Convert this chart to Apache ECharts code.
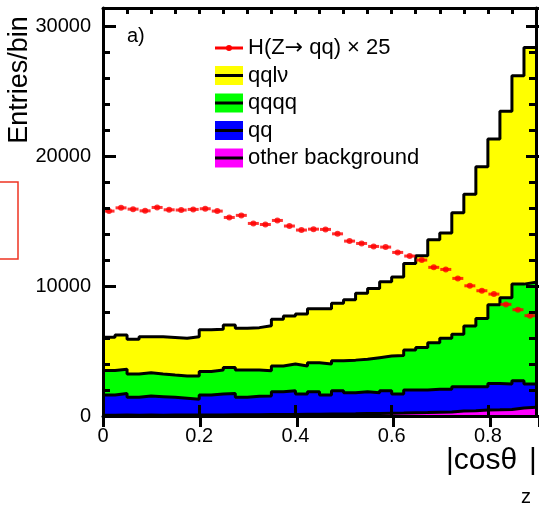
<!DOCTYPE html>
<html>
<head>
<meta charset="utf-8">
<script src="https://cdn.jsdelivr.net/npm/echarts@6/dist/echarts.min.js"></script>
<style>
  html, body { margin: 0; padding: 0; background: #ffffff; }
  #chart { width: 539px; height: 506px; }
</style>
</head>
<body>
<div id="chart"></div>
<script>
// Histogram binning in |cos theta_Z|
const binLow = [0.000, 0.025, 0.050, 0.075, 0.100, 0.125, 0.150, 0.175, 0.200, 0.225,
                0.250, 0.275, 0.300, 0.325, 0.350, 0.375, 0.400, 0.425, 0.450, 0.475,
                0.500, 0.525, 0.550, 0.575, 0.600, 0.625, 0.650, 0.675, 0.700, 0.725,
                0.750, 0.775, 0.800, 0.825, 0.850, 0.875];
const binWidth = 0.025;
const xMax = 0.9;

// Background processes, entries per bin
const otherBackground = [60, 70, 60, 70, 60, 70, 80, 70, 80, 80,
                         90, 100, 100, 110, 110, 120, 130, 140, 150, 160,
                         170, 190, 200, 220, 230, 250, 260, 280, 300, 380,
                         400, 470, 480, 500, 620, 680];
const qq = [1560, 1670, 1380, 1470, 1430, 1370, 1280, 1210, 1540, 1610,
            1650, 1340, 1420, 1430, 1760, 1830, 1560, 1730, 1470, 1790,
            1620, 1680, 1590, 1730, 1470, 1750, 1740, 1770, 1750, 1880,
            1860, 1790, 2030, 1960, 2100, 1780];
const qqqq = [1880, 1850, 1790, 1790, 1740, 1710, 1720, 1800, 1800, 1850,
              2000, 2100, 2020, 1950, 1980, 2050, 2160, 2230, 2390, 2300,
              2510, 2490, 2700, 2670, 2950, 3080, 3280, 3590, 3930, 4040,
              4660, 5250, 6050, 6640, 7430, 7840];
const qqlv = [2560, 2640, 2670, 2770, 2870, 2900, 2900, 3020, 3210, 3130,
              3260, 3210, 3260, 3460, 3600, 3690, 4000, 4150, 4250, 4420,
              4650, 5080, 5330, 5710, 6050, 6660, 7050, 7920, 8100, 9350,
              10140, 11670, 12750, 14360, 16030, 18060];

// Signal H(Z->qq), already multiplied by 25
const signalX25 = [15770, 16020, 15920, 15790, 16050, 15870, 15850, 15900, 15950, 15770,
                   15280, 15440, 14820, 14740, 15050, 14620, 14310, 14380, 14360, 14020,
                   13460, 13280, 13050, 13000, 12590, 12310, 12000, 11440, 11280, 10590,
                   10020, 9640, 9380, 8590, 8180, 7720];

// Axis ticks
const xTickLabels = ['0', '0.2', '0.4', '0.6', '0.8'];
const yTickLabels = ['0', '10000', '20000', '30000'];
const yMax = 31400;

const FONT = 'Liberation Sans, Arial, Helvetica, sans-serif';

// Stack the backgrounds the way a THStack draws them: each histogram holds the running sum
function add(a, b) { return a.map((v, i) => v + b[i]); }
const cumOther = otherBackground.slice();
const cumQQ = add(cumOther, qq);
const cumQQQQ = add(cumQQ, qqqq);
const cumQQLV = add(cumQQQQ, qqlv);

function stepData(values) {
  const pts = binLow.map((x, i) => [x, values[i]]);
  pts.push([xMax, values[values.length - 1]]);
  return pts;
}

function histSeries(name, values, color) {
  return {
    name: name,
    type: 'line',
    xAxisIndex: 0,
    yAxisIndex: 0,
    step: 'end',
    symbol: 'none',
    silent: true,
    animation: false,
    data: stepData(values),
    lineStyle: { color: '#000000', width: 3 },
    areaStyle: { color: color, opacity: 1 },
    z: 2
  };
}

const signalPoints = binLow.map((x, i) => [x + binWidth / 2, signalX25[i]]);

const axisLineStyle = { show: true, onZero: false, lineStyle: { color: '#000000', width: 3 } };
function ticks(len) {
  return { show: true, inside: true, length: len, lineStyle: { color: '#000000', width: 3 } };
}

const xLabelFmt = function (v) {
  const k = Math.round(v * 5);
  return Math.abs(v * 5 - k) < 1e-6 && k < xTickLabels.length ? xTickLabels[k] : '';
};
const yLabelFmt = function (v) {
  const k = Math.round(v / 10000);
  return Math.abs(v - k * 10000) < 1e-6 && k < yTickLabels.length ? yTickLabels[k] : '';
};

const gridBox = { left: 103, right: 0, top: 8, bottom: 90, containLabel: false };

// Legend entries drawn as graphic items
const legendEntries = [
  { label: '{n|H(Z}{a|\u2192}{n| qq) \u00d7 25}', kind: 'marker', color: '#ff0000' },
  { label: '{n|qql\u03bd}', kind: 'fill', color: '#ffff00' },
  { label: '{n|qqqq}', kind: 'fill', color: '#00ff00' },
  { label: '{n|qq}', kind: 'fill', color: '#0000ff' },
  { label: '{n|other background}', kind: 'fill', color: '#ff00ff' }
];
const legendRich = {
  n: { fontSize: 22, fontFamily: FONT, fill: '#000000' },
  a: { fontSize: 22, fontFamily: 'DejaVu Sans, sans-serif', fill: '#000000' }
};
const legendGraphics = [];
legendEntries.forEach(function (e, i) {
  const cy = 48 + i * 27.5;
  if (e.kind === 'fill') {
    legendGraphics.push({ type: 'rect', shape: { x: 215, y: cy - 9.5, width: 28, height: 19 },
      style: { fill: e.color }, z: 100 });
    legendGraphics.push({ type: 'line', shape: { x1: 215, y1: cy, x2: 243, y2: cy },
      style: { stroke: '#000000', lineWidth: 3 }, z: 101 });
  } else {
    legendGraphics.push({ type: 'line', shape: { x1: 215, y1: cy, x2: 243, y2: cy },
      style: { stroke: e.color, lineWidth: 3 }, z: 101 });
    legendGraphics.push({ type: 'circle', shape: { cx: 229, cy: cy, r: 3 },
      style: { fill: e.color }, z: 101 });
  }
  legendGraphics.push({ type: 'text', x: 248, y: cy, z: 101,
    style: { text: e.label, rich: legendRich, fill: '#000000', align: 'left', verticalAlign: 'middle' } });
});

const chart = echarts.init(document.getElementById('chart'), null, { renderer: 'canvas' });

chart.setOption({
  animation: false,
  backgroundColor: '#ffffff',
  grid: [Object.assign({}, gridBox), Object.assign({}, gridBox)],
  xAxis: [
    { gridIndex: 0, type: 'value', position: 'bottom', min: 0, max: xMax, interval: 0.2, z: 10,
      axisLine: axisLineStyle, axisTick: ticks(11), splitLine: { show: false },
      axisLabel: { show: true, margin: 10, fontSize: 20, color: '#000000', fontFamily: FONT, formatter: xLabelFmt } },
    { gridIndex: 0, type: 'value', position: 'top', min: 0, max: xMax, interval: 0.05, z: 10,
      axisLine: axisLineStyle, axisTick: ticks(6), splitLine: { show: false }, axisLabel: { show: false } },
    { gridIndex: 1, type: 'value', position: 'top', min: 0, max: xMax, interval: 0.2, z: 10,
      axisLine: { show: false }, axisTick: ticks(11), splitLine: { show: false }, axisLabel: { show: false } }
  ],
  yAxis: [
    { gridIndex: 0, type: 'value', position: 'left', min: 0, max: yMax, interval: 2000, z: 10,
      axisLine: axisLineStyle, axisTick: ticks(7), splitLine: { show: false },
      axisLabel: { show: true, margin: 12, fontSize: 20, color: '#000000', fontFamily: FONT, formatter: yLabelFmt } },
    { gridIndex: 0, type: 'value', position: 'right', min: 0, max: yMax, interval: 2000, z: 10,
      axisLine: axisLineStyle, axisTick: ticks(7), splitLine: { show: false }, axisLabel: { show: false } },
    { gridIndex: 1, type: 'value', position: 'left', min: 0, max: yMax, interval: 10000, z: 10,
      axisLine: { show: false }, axisTick: ticks(13), splitLine: { show: false }, axisLabel: { show: false } },
    { gridIndex: 1, type: 'value', position: 'right', min: 0, max: yMax, interval: 10000, z: 10,
      axisLine: { show: false }, axisTick: ticks(13), splitLine: { show: false }, axisLabel: { show: false } }
  ],
  series: [
    histSeries('qql\u03bd', cumQQLV, '#ffff00'),
    histSeries('qqqq', cumQQQQ, '#00ff00'),
    histSeries('qq', cumQQ, '#0000ff'),
    histSeries('other background', cumOther, '#ff00ff'),
    {
      name: 'H(Z\u2192qq) \u00d7 25 bins',
      type: 'scatter', xAxisIndex: 0, yAxisIndex: 0, silent: true,
      symbol: 'rect', symbolSize: [11, 3],
      itemStyle: { color: '#ff0000' },
      data: signalPoints, z: 5
    },
    {
      name: 'H(Z\u2192qq) \u00d7 25',
      type: 'scatter', xAxisIndex: 0, yAxisIndex: 0, silent: true,
      symbol: 'circle', symbolSize: 6,
      itemStyle: { color: '#ff0000' },
      data: signalPoints, z: 6
    }
  ],
  graphic: [
    { type: 'text', x: 20, y: 80, rotation: Math.PI / 2, z: 100,
      style: { text: 'Entries/bin', font: '27px ' + FONT, fill: '#000000', align: 'center', verticalAlign: 'middle' } },
    { type: 'text', x: 446, y: 461, z: 100,
      style: { text: '|cos\u03b8', font: '30px ' + FONT, fill: '#000000', align: 'left', verticalAlign: 'middle' } },
    { type: 'text', x: 521, y: 497, z: 100,
      style: { text: 'z', font: '20px ' + FONT, fill: '#000000', align: 'left', verticalAlign: 'middle' } },
    { type: 'text', x: 529, y: 461, z: 100,
      style: { text: '|', font: '30px ' + FONT, fill: '#000000', align: 'left', verticalAlign: 'middle' } },
    { type: 'text', x: 127, y: 36, z: 100,
      style: { text: 'a)', font: '20px ' + FONT, fill: '#000000', align: 'left', verticalAlign: 'middle' } },
    { type: 'rect', shape: { x: -2, y: 182, width: 20, height: 77 }, z: 100,
      style: { fill: 'none', stroke: '#ee3322', lineWidth: 1.5 } }
  ].concat(legendGraphics)
});
</script>
</body>
</html>
